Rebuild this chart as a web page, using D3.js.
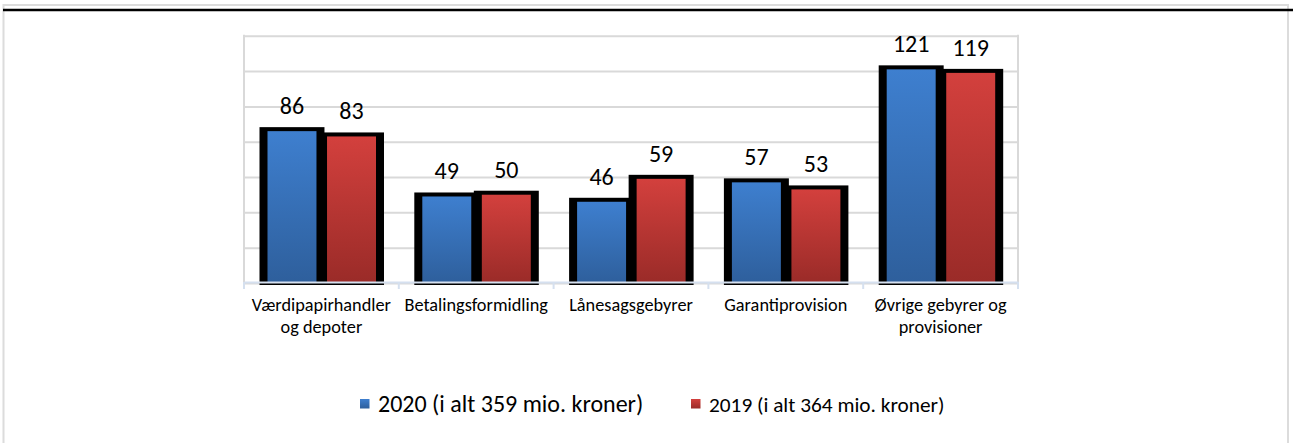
<!DOCTYPE html>
<html lang="da">
<head>
  <meta charset="UTF-8" />
  <title>Gebyrer og provisioner</title>
  <script src="https://d3js.org/d3.v7.min.js"></script>
  <style>
    body {
      margin: 0;
      background: #fff;
      font-family: Carlito, "Liberation Sans", Arial, sans-serif;
    }
    svg { display: block; }
  </style>
</head>
<body>

<svg width="1293" height="443"></svg>

<script>
  const categories = [
    "Værdipapirhandler og depoter",
    "Betalingsformidling",
    "Lånesagsgebyrer",
    "Garantiprovision",
    "Øvrige gebyrer og provisioner"
  ];
  const series = ["2020 (i alt 359 mio. kroner)", "2019 (i alt 364 mio. kroner)"];
  const values2020 = [86, 49, 46, 57, 121];
  const values2019 = [83, 50, 59, 53, 119];
  const yTicks = [0, 20, 40, 60, 80, 100, 120, 140];

  const svg = d3.select("svg");
  const width = +svg.attr("width");

  const rows = categories.map((c, i) => ({ cat: c, vals: [values2020[i], values2019[i]] }));

  // outer frame
  svg.append("line").attr("x1", 3).attr("x2", 1288).attr("y1", 5).attr("y2", 5)
    .attr("stroke", "#dcdcdc").attr("stroke-width", 2);
  svg.append("line").attr("x1", 3.5).attr("x2", 3.5).attr("y1", 4).attr("y2", 443)
    .attr("stroke", "#dcdcdc").attr("stroke-width", 2);
  svg.append("line").attr("x1", 1288).attr("x2", 1288).attr("y1", 4).attr("y2", 443)
    .attr("stroke", "#dcdcdc").attr("stroke-width", 2);
  svg.append("line").attr("x1", 3).attr("x2", width).attr("y1", 10).attr("y2", 10)
    .attr("stroke", "#000").attr("stroke-width", 2.5);

  const plotL = 244, plotR = 1018, plotT = 35.8, base = 283;

  const x0 = d3.scaleBand().domain(categories).range([plotL, plotR]);
  const x1 = d3.scaleBand().domain(series).range([19.5, 136]).paddingInner(0.043);
  const y = d3.scaleLinear().domain([0, 140]).range([base, plotT]);

  // gradients
  const defs = svg.append("defs");
  const grads = [["g2020", "#3e7fcf", "#2e5f9c"], ["g2019", "#d3403d", "#9a2b28"]];
  grads.forEach(([id, c1, c2]) => {
    const lg = defs.append("linearGradient").attr("id", id)
      .attr("x1", 0).attr("y1", 0).attr("x2", 0).attr("y2", 1);
    lg.append("stop").attr("offset", "0%").attr("stop-color", c1);
    lg.append("stop").attr("offset", "100%").attr("stop-color", c2);
  });
  const fills = ["url(#g2020)", "url(#g2019)"];

  // gridlines
  const grid = svg.append("g").attr("transform", `translate(${plotL},0)`)
    .call(d3.axisLeft(y).tickValues(yTicks).tickSize(-(plotR - plotL)).tickFormat(""));
  grid.select(".domain").remove();
  grid.selectAll(".tick line").attr("stroke", "#d9d9d9").attr("stroke-width", 2);
  svg.append("line").attr("x1", plotL).attr("x2", plotL).attr("y1", plotT - 1).attr("y2", base)
    .attr("stroke", "#d9d9d9").attr("stroke-width", 2);
  svg.append("line").attr("x1", plotR).attr("x2", plotR).attr("y1", plotT - 1).attr("y2", base)
    .attr("stroke", "#d9d9d9").attr("stroke-width", 2);

  const groups = svg.append("g").selectAll("g").data(rows).join("g")
    .attr("transform", d => `translate(${x0(d.cat)},0)`);

  const bars = d => d.vals.map((v, j) => ({ v, j, s: series[j] }));

  // black outlines
  groups.selectAll("rect.edge").data(bars).join("rect").attr("class", "edge")
    .attr("x", d => x1(d.s) - 4)
    .attr("width", x1.bandwidth() + 8)
    .attr("y", d => y(d.v) - 4)
    .attr("height", d => base + 2 - y(d.v) + 4)
    .attr("fill", "#000");

  // fills
  groups.selectAll("rect.fill").data(bars).join("rect").attr("class", "fill")
    .attr("x", d => x1(d.s) + 4)
    .attr("width", x1.bandwidth() - 8)
    .attr("y", d => y(d.v))
    .attr("height", d => base - y(d.v))
    .attr("fill", d => fills[d.j]);

  // value labels
  groups.selectAll("text.val").data(bars).join("text").attr("class", "val")
    .attr("x", d => x1(d.s) + x1.bandwidth() / 2)
    .attr("y", d => y(d.v) - 17)
    .attr("text-anchor", "middle")
    .attr("font-size", 24)
    .attr("fill", "#000")
    .text(d => d.v);

  // x axis
  const xAxis = svg.append("g").attr("transform", `translate(0,${base - 1})`)
    .call(d3.axisBottom(x0).tickSize(0).tickPadding(0))
    .attr("font-family", null)
    .attr("font-size", null);
  xAxis.select(".domain").attr("stroke", "#d5e0ef").attr("stroke-width", 2);
  const edges = categories.map(c => x0(c)).concat([plotR]);
  svg.append("g").selectAll("line").data(edges).join("line")
    .attr("x1", d => d).attr("x2", d => d)
    .attr("y1", base - 1).attr("y2", base + 6)
    .attr("stroke", "#d5e0ef").attr("stroke-width", 2);

  xAxis.selectAll(".tick text")
    .attr("font-size", 18.3)
    .attr("fill", "#000")
    .attr("dy", null)
    .attr("y", 0)
    .each(function (d) {
      const t = d3.select(this);
      const words = d.split(" ");
      t.text(null);
      let lines = [[]];
      const probe = t.append("tspan");
      words.forEach(w => {
        const cur = lines[lines.length - 1];
        probe.text(cur.concat([w]).join(" "));
        if (cur.length && probe.node().getComputedTextLength() > x0.bandwidth()) lines.push([w]);
        else cur.push(w);
      });
      probe.remove();
      lines.forEach((l, i) => {
        t.append("tspan").attr("x", 0).attr("y", 28.5 + i * 22.5).text(l.join(" "));
      });
    });

  // legend
  const legendX = [360, 691];
  const legendSize = [24, 21.3];
  const legend = svg.append("g").selectAll("g").data(series).join("g")
    .attr("transform", (d, i) => `translate(${legendX[i]},399)`);
  legend.append("rect").attr("width", 9.5).attr("height", 9.5)
    .attr("fill", (d, i) => fills[i]);
  legend.append("text").attr("x", 18).attr("y", 13)
    .attr("font-size", (d, i) => legendSize[i]).attr("fill", "#000")
    .text(d => d);
</script>

</body>
</html>
